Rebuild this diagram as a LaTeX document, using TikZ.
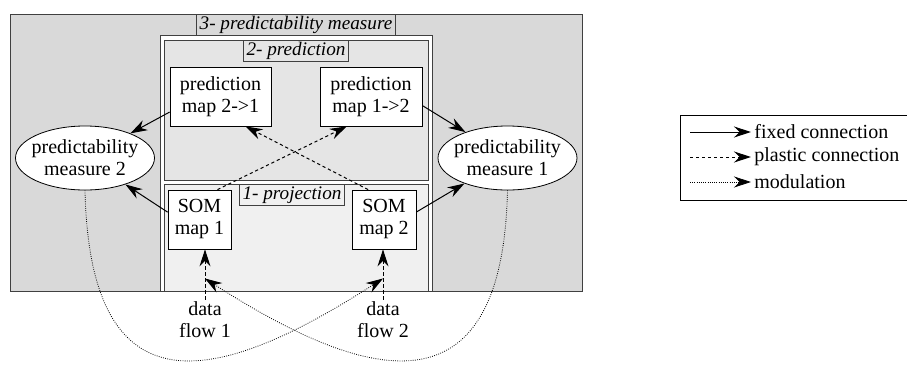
\documentclass[tikz,border=0pt]{standalone}
\usepackage{fontspec}
\setmainfont{Liberation Serif}
\usetikzlibrary{arrows.meta,shapes.geometric}

\begin{document}
\begin{tikzpicture}[x=.5pt, y=-.5pt, font=\fontsize{10}{11}\selectfont,
	box/.style={draw, fill=white, align=center, inner sep=0pt, minimum height=29.5pt},
	meas/.style={ellipse, draw, fill=white, align=center, inner xsep=-3pt, inner ysep=0pt, minimum width=69.5pt, minimum height=32pt},
	tag/.style={draw=black!75, font=\fontsize{9.6}{11}\selectfont\itshape, inner xsep=1.5pt, inner ysep=0pt, minimum height=10.5pt},
	panel/.style={draw=black!75},
	fixed/.style={-{Stealth[length=8.5pt, width=5.5pt, inset=2.8pt]}, line width=.5pt},
	plastic/.style={fixed, dash pattern=on 1.6pt off 1.4pt},
	modul/.style={fixed, line width=.4pt, dash pattern=on .4pt off .7pt}]
	\useasboundingbox (0,0) rectangle (907,365);
	\draw[panel, fill=black!15] (10,14)  rectangle (582,291);
	\draw[panel, fill=white]    (160,35) rectangle (432,291);
	\draw[panel, fill=black!10] (164,40) rectangle (428,180);
	\draw[panel, fill=black!6]  (164,184) rectangle (428,291);
	\node[tag] (lab3) at (296,24.5) {3- predictability measure};
	\node[tag] (lab2) at (296,51)   {2- prediction};
	\node[tag] (lab1) at (292,195)  {1- projection};
	\node[box, minimum width=50.5pt] (pm21) at (220.5,96.5) {prediction\\map 2->1};
	\node[box, minimum width=51pt]   (pm12) at (371,96.5)   {prediction\\map 1->2};
	\node[box, minimum width=31.5pt] (som1) at (199.5,219.5) {SOM\\map 1};
	\node[box, minimum width=32pt]   (som2) at (384,219.5)   {SOM\\map 2};
	\node[meas] (me2) at (85,158)    {predictability\\measure 2};
	\node[meas] (me1) at (507.5,158) {predictability\\measure 1};
	\node[align=center, inner sep=1pt] (df1) at (205,320) {data\\flow 1};
	\node[align=center, inner sep=1pt] (df2) at (383,320) {data\\flow 2};
	\draw[fixed]   (pm21.197) -- (me2);
	\draw[fixed]   (pm12.350) -- (me1);
	\draw[fixed]   (som1.167) -- (me2);
	\draw[fixed]   (som2.13)  -- (me1);
	\draw[plastic] (som1.59)  -- (pm12.231);
	\draw[plastic] (som2.118) -- (pm21.310);
	\draw[plastic] (df1.north) -- coordinate[pos=.42] (md1) (df1.north |- som1.south);
	\draw[plastic] (df2.north) -- coordinate[pos=.42] (md2) (df2.north |- som2.south);
	\draw[modul]   (me2.south) .. controls +(5,230) and +(-160,103) .. (md2);
	\draw[modul]   (me1.south) .. controls +(-5,230) and +(160,103) .. (md1);
	\draw (680,115) rectangle (920,200);
	\node[anchor=west, inner sep=0pt] (lg1) at (754,132) {fixed connection};
	\node[anchor=west, inner sep=0pt] (lg2) at (754,157) {plastic connection};
	\node[anchor=west, inner sep=0pt] (lg3) at (754,182) {modulation};
	\draw[fixed]   ([xshift=-32pt]lg1.west) -- ([xshift=-1.5pt]lg1.west);
	\draw[plastic] ([xshift=-32pt]lg2.west) -- ([xshift=-1.5pt]lg2.west);
	\draw[modul]   ([xshift=-32pt]lg3.west) -- ([xshift=-1.5pt]lg3.west);
\end{tikzpicture}
\end{document}
